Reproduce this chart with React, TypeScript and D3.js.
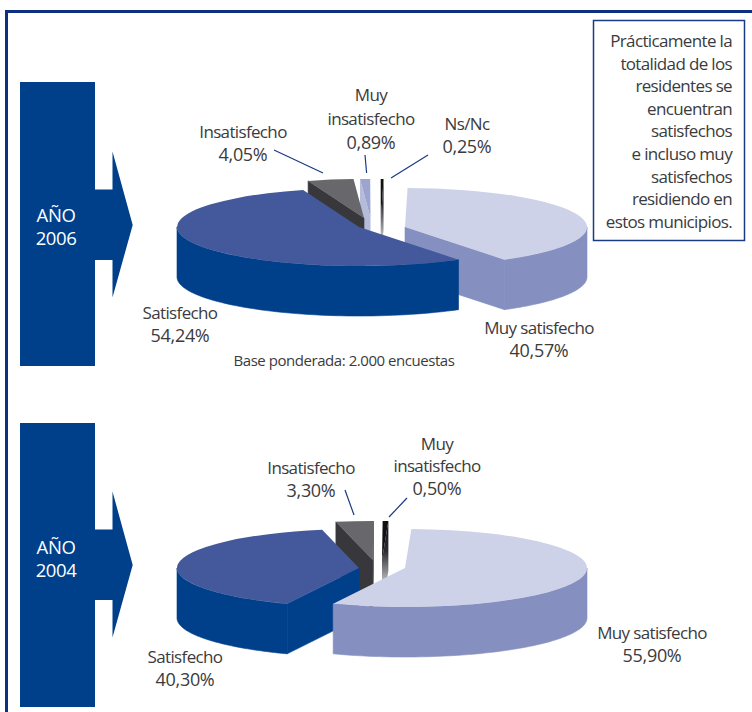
import React from "react";
import * as d3 from "d3";

const categories2006 = ["Muy satisfecho", "Satisfecho", "Insatisfecho", "Muy insatisfecho", "Ns/Nc"];
const values2006 = [40.57, 54.24, 4.05, 0.89, 0.25];
const categories2004 = ["Muy satisfecho", "Satisfecho", "Insatisfecho", "Muy insatisfecho"];
const values2004 = [55.9, 40.3, 3.3, 0.5];
const noteLines = [
  "Prácticamente la",
  "totalidad de los",
  "residentes se",
  "encuentran",
  "satisfechos",
  "e incluso muy",
  "satisfechos",
  "residiendo en",
  "estos municipios.",
];

const RX = 182, RY = 39, H = 50;
const BLUE = "#003f8a";
const LINE = "#1b3a84";
const TEXT = "#3b3b3d";
const FONT = "'Open Sans', sans-serif";

const styles: Record<string, { top: string; wall: string; cut: string }> = {
  "Muy satisfecho": { top: "#cdd2e8", wall: "#858fc0", cut: "#858fc0" },
  Satisfecho: { top: "#43599b", wall: BLUE, cut: BLUE },
  Insatisfecho: { top: "#68686c", wall: "#38373c", cut: "#38373c" },
  "Muy insatisfecho": { top: "#9ca5cf", wall: "#858fc0", cut: "#b4bbdb" },
  "Ns/Nc": { top: "url(#sliver06)", wall: "url(#sliver06)", cut: "url(#sliver06)" },
};
const styles2004 = {
  ...styles,
  "Muy insatisfecho": { top: "url(#sliver04)", wall: "url(#sliver04)", cut: "url(#sliver04)" },
};

const rad = (d: number) => (d * Math.PI) / 180;

function Pie3D({ cats, vals, start, centers, palette }: {
  cats: string[]; vals: number[]; start: number;
  centers: [number, number][]; palette: typeof styles;
}) {
  const arcs = d3.pie<number>().sort(null).startAngle(rad(start)).endAngle(rad(start + 360))(vals);
  const arcPath = d3.arc<any>().innerRadius(0).outerRadius(RX);
  const line = d3.line<[number, number]>();
  const items = arcs
    .map((a, i) => ({ a, i, cat: cats[i], c: centers[i], mid: (a.startAngle + a.endAngle) / 2 }))
    .sort((p, q) => Math.cos(q.mid) - Math.cos(p.mid));
  return (
    <g>
      {items.map(({ a, cat, c }) => {
        const [cx, cy] = c;
        const pt = (t: number, dy = 0): [number, number] => [cx + RX * Math.sin(t), cy - RY * Math.cos(t) + dy];
        const s = palette[cat];
        const faces: React.ReactNode[] = [];
        const solid = s.cut === s.wall && !s.cut.startsWith("url");
        const seam = solid ? { stroke: s.cut, strokeWidth: 0.6 } : {};
        if (Math.sin(a.startAngle) < 0) {
          const p = pt(a.startAngle);
          faces.push(<path key="cs" fill={s.cut} {...seam} d={line([p, [cx, cy], [cx, cy + H], [p[0], p[1] + H]])! + "Z"} />);
        }
        if (Math.sin(a.endAngle) > 0) {
          const p = pt(a.endAngle);
          faces.push(<path key="ce" fill={s.cut} {...seam} d={line([p, [cx, cy], [cx, cy + H], [p[0], p[1] + H]])! + "Z"} />);
        }
        for (const k of [0, 2]) {
          const lo = Math.max(a.startAngle, rad(90) + k * Math.PI);
          const hi = Math.min(a.endAngle, rad(270) + k * Math.PI);
          if (hi > lo) {
            const ts = d3.range(0, 61).map((j) => lo + ((hi - lo) * j) / 60);
            const pts = [...ts.map((t) => pt(t)), ...ts.slice().reverse().map((t) => pt(t, H))];
            faces.push(<path key={"w" + k} fill={s.wall} {...seam} d={line(pts)! + "Z"} />);
          }
        }
        return (
          <g key={cat}>
            {faces}
            <path
              transform={`translate(${cx},${cy}) scale(1,${RY / RX})`}
              fill={s.top}
              d={arcPath({ startAngle: a.startAngle, endAngle: a.endAngle })!}
            />
          </g>
        );
      })}
    </g>
  );
}

function Label({ x, y, lines, pitch = 22.5 }: { x: number; y: number; lines: string[]; pitch?: number }) {
  return (
    <text fontFamily={FONT} fill={TEXT} textAnchor="middle">
      {lines.map((l, i) => {
        const pct = l.endsWith("%");
        return (
          <tspan key={i} x={x} y={y + i * pitch} fontSize={pct ? 18 : 17} letterSpacing={pct ? -0.3 : -0.65}>{l}</tspan>
        );
      })}
    </text>
  );
}

function Banner({ top, bottom, tip, textY, yearLines }: { top: number; bottom: number; tip: number; textY: number; yearLines: string[] }) {
  const d = d3.line()([
    [20, top], [95, top], [95, tip - 35.5], [112.5, tip - 35.5], [112.5, tip - 73.5], [132.7, tip],
    [112.5, tip + 72.5], [112.5, tip + 35], [95, tip + 35], [95, bottom], [20, bottom],
  ])! + "Z";
  return (
    <g>
      <path d={d} fill={BLUE} />
      <text fontFamily={FONT} fontSize={18.5} fill="#fff" textAnchor="middle" letterSpacing={-0.4}>
        {yearLines.map((l, i) => (
          <tspan key={i} x={56} y={textY + i * 23}>{l}</tspan>
        ))}
      </text>
    </g>
  );
}

export default function App() {
  const leaders: [number, number, number, number][] = [
    [274, 150, 323, 173], [365, 155, 366.6, 173], [428, 155, 391, 178],
    [345, 490, 354, 515], [407, 498, 389, 517],
  ];
  return (
    <svg width={752} height={712} style={{ position: "absolute", left: 0, top: 0, background: "#fff" }}>
      <defs>
        <clipPath id="nsclip"><rect x={420} y={100} width={72} height={70} /></clipPath>
        <linearGradient id="sliver06" gradientUnits="userSpaceOnUse" x1={0} y1={180} x2={0} y2={234}>
          <stop offset="0" stopColor="#111114" />
          <stop offset="0.45" stopColor="#2c2c30" />
          <stop offset="1" stopColor="#b4b4b8" />
        </linearGradient>
        <linearGradient id="sliver04" gradientUnits="userSpaceOnUse" x1={0} y1={522} x2={0} y2={580}>
          <stop offset="0" stopColor="#111114" />
          <stop offset="0.5" stopColor="#2c2c30" />
          <stop offset="1" stopColor="#b4b4b8" />
        </linearGradient>
      </defs>
      <path d="M6.5 712V11.5H752" fill="none" stroke="#0f2f80" strokeWidth={3} />
      <rect x={593.5} y={20.5} width={151} height={220} fill="#fff" stroke={LINE} strokeWidth={1.5} />
      <text fontFamily={FONT} fontSize={17} fill={TEXT} textAnchor="end" letterSpacing={-0.65}>
        {noteLines.map((l, i) => (
          <tspan key={i} x={732} y={47 + i * 22.6}>{l}</tspan>
        ))}
      </text>

      <Banner top={82} bottom={366} tip={225} textY={222} yearLines={["AÑO", "2006"]} />
      <Banner top={423} bottom={707} tip={565} textY={554} yearLines={["AÑO", "2004"]} />

      <Pie3D
        cats={categories2006} vals={values2006} start={0.8} palette={styles}
        centers={[[405, 227], [359, 227], [364, 218], [370.5, 218], [381, 218]]}
      />
      <Pie3D
        cats={categories2004} vals={values2004} start={2} palette={styles2004}
        centers={[[405, 568], [359, 568], [372.7, 560], [382, 560]]}
      />

      {leaders.map((l, i) => (
        <line key={i} x1={l[0]} y1={l[1]} x2={l[2]} y2={l[3]} stroke={LINE} strokeWidth={1.2} />
      ))}

      <Label x={243} y={138} lines={["Insatisfecho", "4,05%"]} />
      <Label x={371} y={101} lines={["Muy", "insatisfecho", "0,89%"]} pitch={24} />
      <g clipPath="url(#nsclip)"><Label x={467} y={130} lines={["Ns/Nc", "0,25%"]} /></g>
      <Label x={180} y={319} lines={["Satisfecho", "54,24%"]} />
      <Label x={539} y={334} lines={["Muy satisfecho", "40,57%"]} />
      <text x={344} y={366} fontFamily={FONT} fontSize={15} fill={TEXT} textAnchor="middle" letterSpacing={-0.45}>
        Base ponderada: 2.000 encuestas
      </text>
      <Label x={311} y={474} lines={["Insatisfecho", "3,30%"]} />
      <Label x={437} y={449.5} lines={["Muy", "insatisfecho", "0,50%"]} />
      <Label x={185} y={663} lines={["Satisfecho", "40,30%"]} />
      <Label x={652} y={639} lines={["Muy satisfecho", "55,90%"]} />
    </svg>
  );
}
